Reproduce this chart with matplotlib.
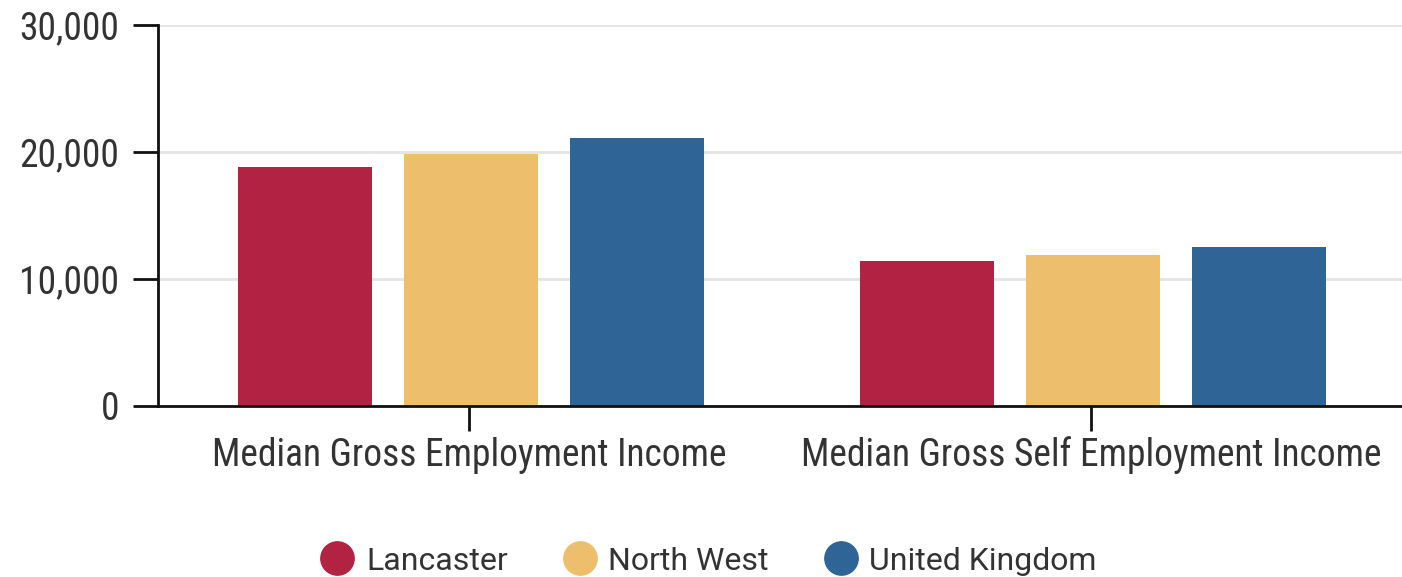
import matplotlib
matplotlib.use("Agg")
import matplotlib.pyplot as plt
from matplotlib import font_manager as fm
from matplotlib.lines import Line2D
import numpy as np

categories = ["Median Gross Employment Income", "Median Gross Self Employment Income"]
series_names = ["Lancaster", "North West", "United Kingdom"]
lancaster = [18800, 11400]
north_west = [19850, 11900]
united_kingdom = [21100, 12550]
colors = ["#B22242", "#EDBF6D", "#2F6596"]
yticks = [0, 10000, 20000, 30000]
ytick_labels = ["0", "10,000", "20,000", "30,000"]

names = {f.name for f in fm.fontManager.ttflist}
cond = "Roboto Condensed" if "Roboto Condensed" in names else "Roboto"
plt.rcParams['font.family'] = [cond, 'DejaVu Sans']

fig = plt.figure(figsize=(14.02, 5.77), dpi=100)
ax = fig.add_axes([158/1402, 1 - 406/577, (1402-158)/1402, (406-25)/577])

x = np.arange(len(categories))
width = 0.215
step = 0.267
for i, (vals, c) in enumerate(zip([lancaster, north_west, united_kingdom], colors)):
    ax.bar(x + (i-1)*step + 0.003, vals, width=width, color=c, zorder=3)

ax.set_xlim(-0.5, 1.5)
ax.set_ylim(0, 30000)
ax.set_yticks(yticks)
ax.set_yticklabels(ytick_labels)
ax.set_xticks(x)
ax.set_xticklabels(categories)
ax.grid(axis='y', color='#e3e3e3', linewidth=2, zorder=0)
for s in ['top', 'right']:
    ax.spines[s].set_visible(False)
for s in ['left', 'bottom']:
    ax.spines[s].set_linewidth(2)
    ax.spines[s].set_color('#111111')
    ax.spines[s].set_zorder(4)
ax.tick_params(axis='both', length=18, width=2, color='#111111', labelsize=27, labelcolor='#333333')
ax.tick_params(axis='y', pad=10)
ax.tick_params(axis='x', pad=4)

handles = [Line2D([0], [0], marker='o', linestyle='none', markersize=24, markerfacecolor=c, markeredgecolor=c) for c in colors]
leg = fig.legend(handles, series_names, loc='center', bbox_to_anchor=(709/1402, 1 - 561/577), ncol=3, frameon=False,
                 prop={'family': ['Roboto', 'DejaVu Sans'], 'size': 23}, handlelength=1.0, handletextpad=0.4,
                 columnspacing=1.75, labelcolor='#333333', borderpad=0, borderaxespad=0)
fig.savefig("out.png", dpi=100)
